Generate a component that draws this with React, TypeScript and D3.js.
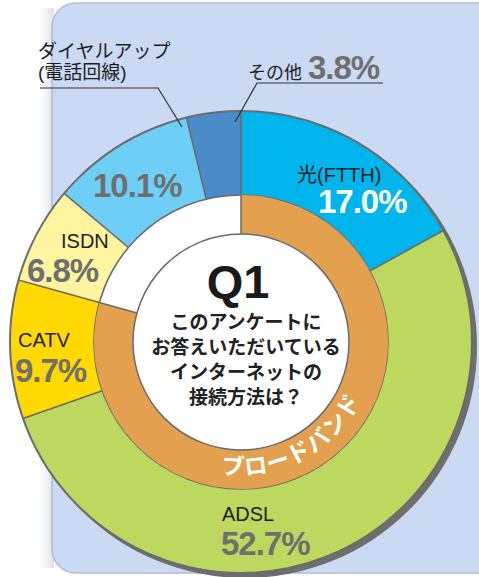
import React from 'react'
import * as d3 from 'd3'

const width = 479
const height = 577

// data, clockwise from 12 o'clock
const categories = ['光(FTTH)', 'ADSL', 'CATV', 'ISDN', 'ダイヤルアップ', 'その他']
const values = [17.0, 52.7, 9.7, 6.8, 10.1, 3.8]
const broadbandKeys = ['光(FTTH)', 'ADSL', 'CATV']
const broadbandTitle = 'ブロードバンド'
const questionTitle = 'Q1'
const questionLines = ['このアンケートに', 'お答えいただいている', 'インターネットの', '接続方法は？']

const fills = ['#00b5ec', '#bdd85f', '#ffd900', '#fff5a0', '#6dcff6', '#4a8bca']

// label layout (text positions only)
const labelLayout = [
  { nx: 297, ny: 182, px: 318, py: 213, size: 20, pctFill: '#ffffff' },
  { nx: 222, ny: 521, px: 221, py: 555, size: 20, pctFill: '#6f6f6f' },
  { nx: 18, ny: 347, px: 15, py: 382, size: 20, pctFill: '#6f6f6f' },
  { nx: 61, ny: 248, px: 27, py: 282, size: 20, pctFill: '#6f6f6f' },
  { nx: 38, ny: 58, px: 93, py: 197, size: 19, pctFill: '#6f6f6f' },
  { nx: 248, ny: 79, px: 308, py: 79, size: 18, pctFill: '#6f6f6f' },
]

const cx = 241
const cy = 342
const R = 231
const ringOuter = 147
const ringInner = 108
const stroke = '#6b6b6b'
const jpFont = '"Noto Sans CJK JP", "Noto Sans", sans-serif'
const labelFont = '"Liberation Sans", "Noto Sans CJK JP", sans-serif'
const numFont = '"Liberation Sans", Arial, sans-serif'

const App = () => {
  const pie = d3.pie<number>().sort(null).value(d => d)
  const arcs = pie(values)
  const outerArc = d3.arc<d3.PieArcDatum<number>>().innerRadius(ringOuter).outerRadius(R)

  const bbEnd = arcs
    .filter((a, i) => broadbandKeys.includes(categories[i]))
    .reduce((m, a) => Math.max(m, a.endAngle), 0)
  const ringArc = d3.arc()({
    innerRadius: ringInner,
    outerRadius: ringOuter,
    startAngle: 0,
    endAngle: bbEnd,
  }) as string

  // arc path for the broadband caption (counterclockwise, text upright)
  const tr = 133
  const a0 = (212 * Math.PI) / 180
  const a1 = (92 * Math.PI) / 180
  const p0 = [tr * Math.sin(a0), -tr * Math.cos(a0)]
  const p1 = [tr * Math.sin(a1), -tr * Math.cos(a1)]
  const captionPath = `M${p0[0]},${p0[1]} A${tr},${tr} 0 0 0 ${p1[0]},${p1[1]}`

  // dividers between segments
  const dividers = arcs.map(a => {
    const s = a.startAngle
    return {
      x1: ringOuter * Math.sin(s),
      y1: -ringOuter * Math.cos(s),
      x2: R * Math.sin(s),
      y2: -R * Math.cos(s),
    }
  })

  return (
    <svg width={width} height={height} style={{ position: 'absolute', left: 0, top: 0 }}>
      <defs>
        <linearGradient id="shade" x1="0" x2="1" y1="0" y2="0">
          <stop offset="0" stopColor="#ffffff" />
          <stop offset="1" stopColor="#dde3ec" />
        </linearGradient>
      </defs>
      <rect width={width} height={height} fill="#ffffff" />
      <rect x={40} y={8} width={14} height={560} fill="url(#shade)" />
      <rect x={52} y={3} width={470} height={570} rx={24} fill="#c9daf2" stroke="#b3bccb" strokeWidth={1.5} />

      <g transform={`translate(${cx}, ${cy})`}>
        {/* drop shadow */}
        <circle cx={4} cy={4} r={R + 1} fill="#6e6e6e" />
        {arcs.map((a, i) => (
          <path key={i} d={outerArc(a) as string} fill={fills[i]} />
        ))}
        <circle r={R} fill="none" stroke={stroke} strokeWidth={2} />
        {dividers.map((d, i) => (
          <line key={i} {...d} stroke={stroke} strokeWidth={1.6} />
        ))}
        <circle r={ringOuter} fill="#ffffff" stroke={stroke} strokeWidth={1.6} />
        <path d={ringArc} fill="#e3a04f" />
        <circle r={ringInner} fill="#ffffff" stroke={stroke} strokeWidth={1.5} />
        <line x1={0} y1={-ringOuter} x2={0} y2={-ringInner} stroke={stroke} strokeWidth={1.5} />
        <line
          x1={ringInner * Math.sin(bbEnd)}
          y1={-ringInner * Math.cos(bbEnd)}
          x2={ringOuter * Math.sin(bbEnd)}
          y2={-ringOuter * Math.cos(bbEnd)}
          stroke={stroke}
          strokeWidth={1.5}
        />
        <path id="captionArc" d={captionPath} fill="none" />
        <text fontFamily={jpFont} fontWeight={700} fontSize={23} fill="#ffffff" letterSpacing={1}>
          <textPath href="#captionArc" startOffset="50%" textAnchor="middle">
            {broadbandTitle}
          </textPath>
        </text>
      </g>

      {/* center question */}
      <text x={238} y={298} textAnchor="middle" fontFamily={numFont} fontWeight={700} fontSize={47} fill="#1a1a1a">
        {questionTitle}
      </text>
      {questionLines.map((t, i) => (
        <text
          key={i}
          x={246}
          y={329 + i * 25}
          textAnchor="middle"
          fontFamily={jpFont}
          fontWeight={700}
          fontSize={19}
          fill="#222222"
        >
          {t}
        </text>
      ))}

      {/* leader lines */}
      <polyline points="40,88 158,88 182,127" fill="none" stroke="#333" strokeWidth={1.2} />
      <polyline points="383,83 257,83 235,122" fill="none" stroke="#333" strokeWidth={1.2} />

      {/* segment labels */}
      {labelLayout.map((l, i) => (
        <g key={i}>
          <text x={l.nx} y={l.ny} fontFamily={labelFont} fontSize={l.size} fill="#1e1e1e">
            {categories[i]}
          </text>
          {i === 4 && (
            <text x={l.nx} y={l.ny + 21} fontFamily={labelFont} fontSize={19} fill="#1e1e1e">
              (電話回線)
            </text>
          )}
          <text
            x={l.px}
            y={l.py}
            fontFamily={numFont}
            fontWeight={700}
            fontSize={33}
            letterSpacing={-1}
            fill={l.pctFill}
          >
            {`${values[i].toFixed(1)}%`}
          </text>
        </g>
      ))}
    </svg>
  )
}

export default App
